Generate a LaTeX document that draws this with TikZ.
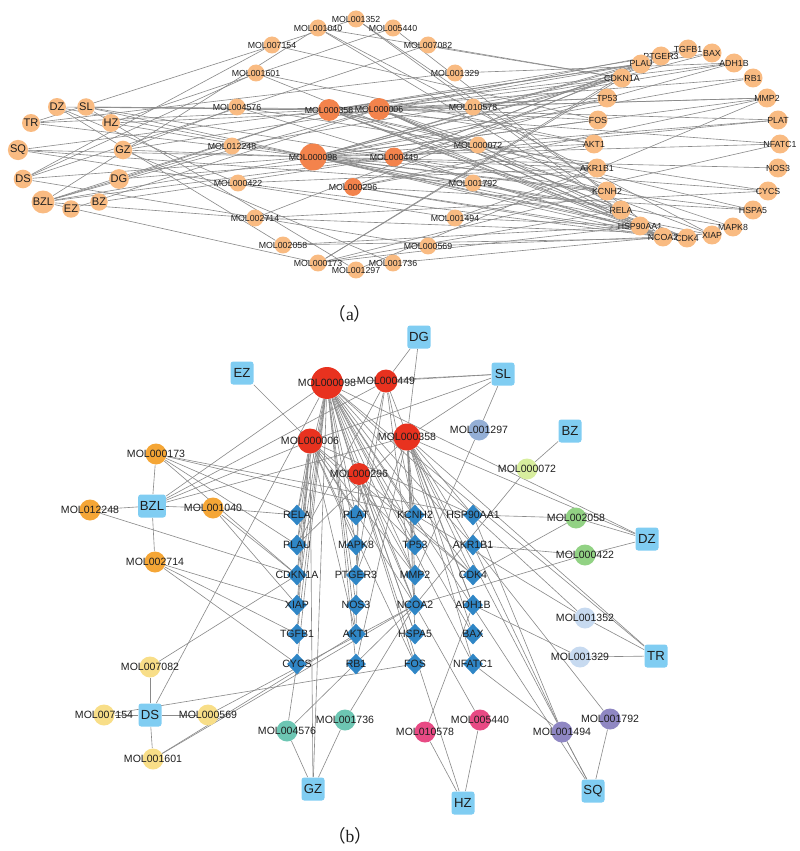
\documentclass[tikz,border=0pt]{standalone}
\usepackage{fontspec}
\setmainfont{Liberation Sans}
\newfontfamily\cjkfont{Noto Sans CJK SC}
\newfontfamily\capfont{Liberation Serif}
\usetikzlibrary{shapes.geometric, backgrounds}
\definecolor{ink}{HTML}{1E1E1E}
\definecolor{edgeG}{HTML}{8A8A8A}
\definecolor{orangeL}{HTML}{F9BB82}
\definecolor{orangeD}{HTML}{F3834C}
\definecolor{redB}{HTML}{E8321F}
\definecolor{skyB}{HTML}{80CDF2}
\definecolor{diaB}{HTML}{2F86C6}
\definecolor{orangeB}{HTML}{F5A636}
\definecolor{yellowB}{HTML}{F8DE88}
\definecolor{tealB}{HTML}{6DC6B3}
\definecolor{pinkB}{HTML}{E84A84}
\definecolor{purpleB}{HTML}{8F87C3}
\definecolor{paleB}{HTML}{C7DAF0}
\definecolor{greenB}{HTML}{92D284}
\definecolor{limeB}{HTML}{D8EE9E}
\definecolor{steelB}{HTML}{94AFD6}

\begin{document}
\begin{tikzpicture}[x=0.02cm, y=-0.02cm,
  link/.style={draw=edgeG, line width=0.35pt},
  labA/.style={font=\fontsize{5}{5}\selectfont, text=ink, inner sep=0pt},
  labB/.style={font=\fontsize{6}{6}\selectfont, text=ink, inner sep=0pt},
  herbA/.style={circle, fill=orangeL, inner sep=0.3pt, minimum size=0.35cm,
    font=\fontsize{6.3}{6.3}\selectfont, text=ink},
  molA/.style={circle, fill=orangeL, inner sep=0pt, minimum size=0.34cm,
    label={[labA]center:#1}},
  geneA/.style={circle, fill=orangeL, inner sep=0pt, minimum size=0.38cm,
    label={[labA]center:#1}},
  herbB/.style={rectangle, rounded corners=1.5pt, fill=skyB, inner sep=1pt,
    minimum size=0.46cm, font=\fontsize{7.5}{7.5}\selectfont, text=ink},
  molB/.style={circle, inner sep=0pt, minimum size=0.42cm,
    label={[labB]center:#1}},
  geneB/.style={diamond, fill=diaB, inner sep=0pt, minimum width=0.40cm,
    minimum height=0.42cm, label={[labB]center:#1}},
  capt/.style={font=\fontsize{10}{10}\selectfont, text=ink}
]
\useasboundingbox (0,0) rectangle (800,851);

%% ===== (a) =====
% herbs
\node[herbA] (a-DZ)  at (57,107)  {DZ};
\node[herbA] (a-SL)  at (86,107)  {SL};
\node[herbA] (a-TR)  at (31,123)  {TR};
\node[herbA] (a-HZ)  at (111,123) {HZ};
\node[herbA] (a-SQ)  at (18,150)  {SQ};
\node[herbA] (a-GZ)  at (123,150) {GZ};
\node[herbA] (a-DS)  at (23,179)  {DS};
\node[herbA] (a-DG)  at (119,179) {DG};
\node[herbA] (a-BZL) at (43,202)  {BZL};
\node[herbA] (a-EZ)  at (71,209)  {EZ};
\node[herbA] (a-BZ)  at (99,202)  {BZ};

% compounds
\node[molA=MOL001040] (a-m001040) at (318,28) {};
\node[molA=MOL005440] (a-m005440) at (393,28) {};
\node[molA=MOL001352] (a-m001352) at (356,19) {};
\node[molA=MOL007154] (a-m007154) at (272,45) {};
\node[molA=MOL007082] (a-m007082) at (428,45) {};
\node[molA=MOL001601] (a-m001601) at (256,73) {};
\node[molA=MOL001329] (a-m001329) at (455,73) {};
\node[molA=MOL004576] (a-m004576) at (237,107) {};
\node[molA=MOL000358, fill=orangeD, minimum size=0.44cm] (a-m000358) at (329,110) {};
\node[molA=MOL000006, fill=orangeD, minimum size=0.44cm] (a-m000006) at (379,109) {};
\node[molA=MOL010578] (a-m010578) at (473,107) {};
\node[molA=MOL012248] (a-m012248) at (232,146) {};
\node[molA=MOL000098, fill=orangeD, minimum size=0.54cm] (a-m000098) at (313,157) {};
\node[molA=MOL000449, fill=orangeD, minimum size=0.38cm] (a-m000449) at (394,157) {};
\node[molA=MOL000072] (a-m000072) at (478,145) {};
\node[molA=MOL000422] (a-m000422) at (238,183) {};
\node[molA=MOL000296, fill=orangeD, minimum size=0.36cm] (a-m000296) at (353,187) {};
\node[molA=MOL001792] (a-m001792) at (473,183) {};
\node[molA=MOL002714] (a-m002714) at (255,218) {};
\node[molA=MOL001494] (a-m001494) at (455,218) {};
\node[molA=MOL002058] (a-m002058) at (283,245) {};
\node[molA=MOL000569] (a-m000569) at (428,246) {};
\node[molA=MOL000173] (a-m000173) at (318,263) {};
\node[molA=MOL001736] (a-m001736) at (393,263) {};
\node[molA=MOL001297] (a-m001297) at (356,270) {};

% targets (ring)
\node[geneA=PTGER3]   (a-PTGER3)   at (661,56)  {};
\node[geneA=TGFB1]    (a-TGFB1)    at (688,49)  {};
\node[geneA=BAX]      (a-BAX)      at (712,53)  {};
\node[geneA=PLAU]     (a-PLAU)     at (641,64)  {};
\node[geneA=ADH1B]    (a-ADH1B)    at (734,63)  {};
\node[geneA=CDKN1A]   (a-CDKN1A)   at (622,78)  {};
\node[geneA=RB1]      (a-RB1)      at (753,78)  {};
\node[geneA=TP53]     (a-TP53)     at (607,98)  {};
\node[geneA=MMP2]     (a-MMP2)     at (767,98)  {};
\node[geneA=FOS]      (a-FOS)      at (598,120) {};
\node[geneA=PLAT]     (a-PLAT)     at (778,120) {};
\node[geneA=AKT1]     (a-AKT1)     at (594,144) {};
\node[geneA=NFATC1]   (a-NFATC1)   at (780,144) {};
\node[geneA=AKR1B1]   (a-AKR1B1)   at (597,168) {};
\node[geneA=NOS3]     (a-NOS3)     at (778,168) {};
\node[geneA=KCNH2]    (a-KCNH2)    at (607,191) {};
\node[geneA=CYCS]     (a-CYCS)     at (768,191) {};
\node[geneA=RELA]     (a-RELA)     at (621,210) {};
\node[geneA=HSPA5]    (a-HSPA5)    at (753,210) {};
\node[geneA=MAPK8]    (a-MAPK8)    at (733,227) {};
\node[geneA=HSP90AA1] (a-HSP90AA1) at (640,226) {};
\node[geneA=CDK4]     (a-CDK4)     at (687,238) {};
\node[geneA=XIAP]     (a-XIAP)     at (712,235) {};
\node[geneA=NCOA2]    (a-NCOA2)    at (663,237) {};

\node[capt] (capA) at (350,314) {{\cjkfont （}{\capfont a}{\cjkfont ）}};

%% ===== (b) =====
% herbs
\node[herbB] (b-DG)  at (419,337) {DG};
\node[herbB] (b-EZ)  at (242,373) {EZ};
\node[herbB] (b-SL)  at (503,374) {SL};
\node[herbB] (b-BZ)  at (570,431) {BZ};
\node[herbB] (b-BZL) at (152,506) {BZL};
\node[herbB] (b-DZ)  at (647,539) {DZ};
\node[herbB] (b-TR)  at (656,656) {TR};
\node[herbB] (b-DS)  at (150,715) {DS};
\node[herbB] (b-GZ)  at (313,789) {GZ};
\node[herbB] (b-HZ)  at (463,803) {HZ};
\node[herbB] (b-SQ)  at (593,791) {SQ};

% shared compounds
\node[molB=MOL000098, fill=redB, minimum size=0.64cm] (b-m000098) at (327,383) {};
\node[molB=MOL000449, fill=redB, minimum size=0.46cm] (b-m000449) at (386,381) {};
\node[molB=MOL000006, fill=redB, minimum size=0.50cm] (b-m000006) at (310,441) {};
\node[molB=MOL000358, fill=redB, minimum size=0.54cm] (b-m000358) at (407,437) {};
\node[molB=MOL000296, fill=redB, minimum size=0.44cm] (b-m000296) at (359,474) {};

% herb-specific compounds
\node[molB=MOL000173, fill=orangeB] (b-m000173) at (156,454) {};
\node[molB=MOL012248, fill=orangeB] (b-m012248) at (90,510)  {};
\node[molB=MOL001040, fill=orangeB] (b-m001040) at (213,508) {};
\node[molB=MOL002714, fill=orangeB] (b-m002714) at (155,562) {};
\node[molB=MOL007082, fill=yellowB] (b-m007082) at (150,667) {};
\node[molB=MOL007154, fill=yellowB] (b-m007154) at (104,715) {};
\node[molB=MOL000569, fill=yellowB] (b-m000569) at (208,715) {};
\node[molB=MOL001601, fill=yellowB] (b-m001601) at (153,759) {};
\node[molB=MOL004576, fill=tealB]   (b-m004576) at (287,731) {};
\node[molB=MOL001736, fill=tealB]   (b-m001736) at (345,720) {};
\node[molB=MOL010578, fill=pinkB]   (b-m010578) at (425,732) {};
\node[molB=MOL005440, fill=pinkB]   (b-m005440) at (480,720) {};
\node[molB=MOL001494, fill=purpleB] (b-m001494) at (562,732) {};
\node[molB=MOL001792, fill=purpleB] (b-m001792) at (610,719) {};
\node[molB=MOL001352, fill=paleB]   (b-m001352) at (585,618) {};
\node[molB=MOL001329, fill=paleB]   (b-m001329) at (580,657) {};
\node[molB=MOL002058, fill=greenB]  (b-m002058) at (576,518) {};
\node[molB=MOL000422, fill=greenB]  (b-m000422) at (585,555) {};
\node[molB=MOL000072, fill=limeB]   (b-m000072) at (527,469) {};
\node[molB=MOL001297, fill=steelB]  (b-m001297) at (479,430) {};

% targets (grid)
\node[geneB=RELA]     (b-RELA)     at (297,515) {};
\node[geneB=PLAU]     (b-PLAU)     at (297,545) {};
\node[geneB=CDKN1A]   (b-CDKN1A)   at (297,575) {};
\node[geneB=XIAP]     (b-XIAP)     at (297,605) {};
\node[geneB=TGFB1]    (b-TGFB1)    at (297,634) {};
\node[geneB=CYCS]     (b-CYCS)     at (297,664) {};
\node[geneB=PLAT]     (b-PLAT)     at (356,515) {};
\node[geneB=MAPK8]    (b-MAPK8)    at (356,545) {};
\node[geneB=PTGER3]   (b-PTGER3)   at (356,575) {};
\node[geneB=NOS3]     (b-NOS3)     at (356,605) {};
\node[geneB=AKT1]     (b-AKT1)     at (356,634) {};
\node[geneB=RB1]      (b-RB1)      at (356,664) {};
\node[geneB=KCNH2]    (b-KCNH2)    at (415,515) {};
\node[geneB=TP53]     (b-TP53)     at (415,545) {};
\node[geneB=MMP2]     (b-MMP2)     at (415,575) {};
\node[geneB=NCOA2]    (b-NCOA2)    at (415,605) {};
\node[geneB=HSPA5]    (b-HSPA5)    at (415,634) {};
\node[geneB=FOS]      (b-FOS)      at (415,664) {};
\node[geneB=HSP90AA1] (b-HSP90AA1) at (473,515) {};
\node[geneB=AKR1B1]   (b-AKR1B1)   at (473,545) {};
\node[geneB=CDK4]     (b-CDK4)     at (473,575) {};
\node[geneB=ADH1B]    (b-ADH1B)    at (473,605) {};
\node[geneB=BAX]      (b-BAX)      at (473,634) {};
\node[geneB=NFATC1]   (b-NFATC1)   at (473,664) {};

\node[capt] (capB) at (350,836) {{\cjkfont （}{\capfont b}{\cjkfont ）}};

%% ===== edges, same network in both panels =====
\begin{scope}[on background layer]
% herbs -> compounds
\foreach \p in {a,b}
  \foreach \h/\m in {BZL/m000173, BZL/m012248, BZL/m001040, BZL/m002714,
      BZL/m000098, BZL/m000449, BZL/m000006, BZL/m000358,
      DS/m007082, DS/m007154, DS/m000569, DS/m001601, DS/m000098,
      GZ/m004576, GZ/m001736, GZ/m000098, GZ/m000006,
      HZ/m010578, HZ/m005440, HZ/m000098,
      SQ/m001494, SQ/m001792, SQ/m000098, SQ/m000358,
      TR/m001352, TR/m001329, TR/m000098, TR/m000358,
      DZ/m002058, DZ/m000422, DZ/m000098, DZ/m000358,
      BZ/m000072,
      SL/m001297, SL/m000449, SL/m000358, SL/m000006, SL/m000098,
      EZ/m000006, DG/m000449, DG/m000358}
    \draw[link] (\p-\h) -- (\p-\m);
% compounds -> targets
\foreach \p in {a,b}
  \foreach \m/\t in {m000098/RELA, m000098/PLAU, m000098/CDKN1A, m000098/XIAP,
      m000098/TGFB1, m000098/CYCS, m000098/PLAT, m000098/MAPK8, m000098/NOS3,
      m000098/AKT1, m000098/RB1, m000098/KCNH2, m000098/TP53, m000098/MMP2,
      m000098/NCOA2, m000098/HSPA5, m000098/FOS, m000098/HSP90AA1,
      m000098/AKR1B1, m000098/CDK4, m000098/BAX, m000098/NFATC1,
      m000006/RELA, m000006/PLAU, m000006/CDKN1A, m000006/XIAP, m000006/TGFB1,
      m000006/PLAT, m000006/MAPK8, m000006/AKT1, m000006/TP53, m000006/MMP2,
      m000006/NCOA2, m000006/FOS, m000006/CDK4, m000006/HSP90AA1,
      m000358/KCNH2, m000358/HSP90AA1, m000358/AKR1B1, m000358/NCOA2,
      m000358/MMP2, m000358/CDK4, m000358/ADH1B, m000358/BAX, m000358/NFATC1,
      m000358/TP53, m000358/PTGER3, m000358/HSPA5, m000358/PLAU, m000358/RB1,
      m000449/PLAT, m000449/KCNH2, m000449/NCOA2, m000449/PTGER3,
      m000449/ADH1B, m000449/PLAU,
      m000296/NCOA2, m000296/PTGER3, m000296/MMP2, m000296/HSPA5,
      m000296/CDK4, m000296/AKT1,
      m000173/RELA, m000173/PLAU, m000173/CDKN1A, m000173/KCNH2,
      m000173/HSP90AA1, m012248/CDKN1A,
      m001040/CDKN1A, m001040/XIAP, m001040/RELA,
      m002714/XIAP, m002714/TGFB1, m002714/CYCS,
      m007082/CDKN1A, m007154/FOS, m000569/NCOA2,
      m001601/NCOA2, m001601/AKT1,
      m004576/CYCS, m004576/NCOA2, m001736/NCOA2,
      m010578/ADH1B, m005440/NCOA2,
      m001494/HSP90AA1, m001494/AKR1B1, m001494/NFATC1, m001792/AKR1B1,
      m001352/HSP90AA1, m001352/KCNH2, m001329/ADH1B,
      m002058/HSP90AA1, m002058/CDK4, m000422/AKR1B1, m000422/NCOA2,
      m000072/NCOA2, m001297/MMP2}
    \draw[link] (\p-\m) -- (\p-\t);
\end{scope}

\end{tikzpicture}
\end{document}
